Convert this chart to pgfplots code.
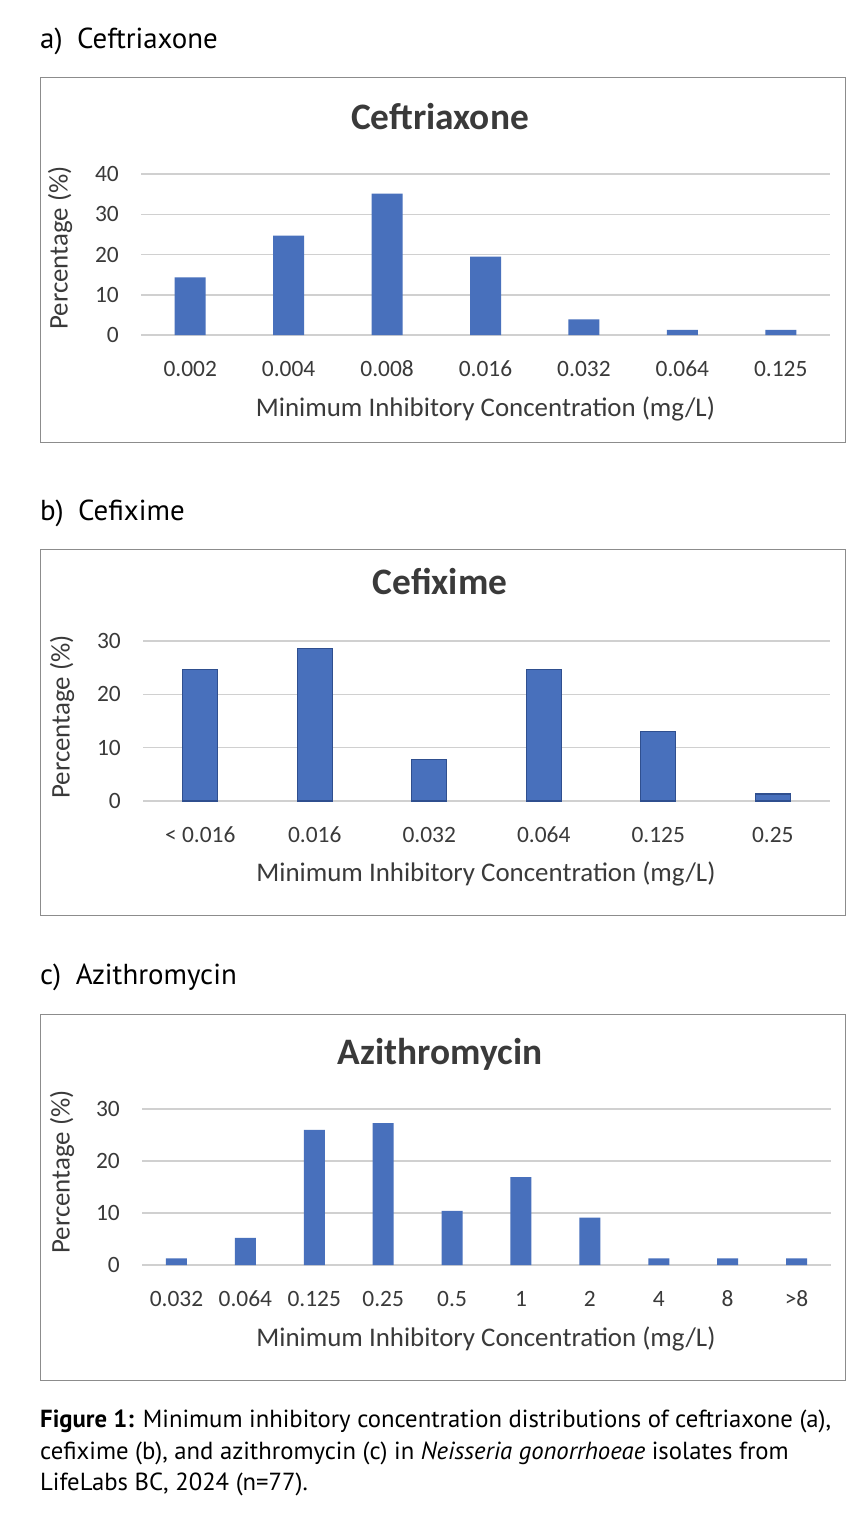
\documentclass[border=0pt]{standalone}
\usepackage{pgfplots}
\pgfplotsset{compat=1.18}
\usepackage{fontspec}
\setmainfont{PT Sans}
\newfontfamily\chartfont{Carlito}

\definecolor{barblue}{HTML}{4870BC}
\definecolor{baredge}{HTML}{2F4F8F}
\definecolor{gridgray}{HTML}{D0D0D0}
\definecolor{boxgray}{HTML}{8C8C8C}
\definecolor{txtgray}{HTML}{3A3A3A}

\pgfplotsset{
  micchart/.style={
    scale only axis,
    anchor=south west,
    width=689bp,
    ymin=0,
    axis line style={draw=none},
    major tick length=0pt,
    ymajorgrids,
    grid style={gridgray, line width=1.5pt},
    ybar,
    bar shift=0pt,
    xtick={0,...,12},
    /pgf/number format/assume math mode=true,
    ticklabel style={font=\chartfont\fontsize{23.5}{28}\selectfont, text=txtgray},
    xticklabel style={anchor=base, yshift=-41bp},
    yticklabel style={anchor=east, inner sep=0pt, xshift=-22bp},
    clip=false,
  },
}

\newcommand{\charttitle}[1]{{\chartfont\bfseries\fontsize{37.5}{42}\selectfont #1}}
\newcommand{\chartlabel}[1]{{\chartfont\fontsize{27}{32}\selectfont #1}}
\newcommand{\panellabel}[1]{{\fontsize{29}{34}\selectfont #1}}

\begin{document}
\begin{tikzpicture}
\path[use as bounding box, fill=white] (0,0) rectangle (862bp,-1522bp);

% ---------------- a) Ceftriaxone ----------------
\node[anchor=base west, inner sep=0pt] at (40bp,-48bp) {\panellabel{a)\enspace Ceftriaxone}};
\draw[boxgray, line width=1pt] (40bp,-77bp) rectangle (845bp,-442bp);
\node[anchor=base, text=txtgray] at (440bp,-129bp) {\charttitle{Ceftriaxone}};
\begin{axis}[micchart,
  at={(141bp,-335bp)}, height=161bp,
  xmin=-0.5, xmax=6.5, ymax=40, ytick={0,10,20,30,40},
  bar width=31bp,
  xticklabels={0.002,0.004,0.008,0.016,0.032,0.064,0.125}]
\addplot[fill=barblue, draw=none] coordinates {
  (0,14.3) (1,24.7) (2,35.1) (3,19.5) (4,3.9) (5,1.3) (6,1.3)};
\end{axis}
\node[anchor=base, text=txtgray] at (485.5bp,-416bp) {\chartlabel{Minimum Inhibitory Concentration (mg/L)}};
\node[rotate=90, text=txtgray] at (60bp,-248bp) {\chartlabel{Percentage (\%)}};

% ---------------- b) Cefixime ----------------
\node[anchor=base west, inner sep=0pt] at (40bp,-520bp) {\panellabel{b)\enspace Cefixime}};
\draw[boxgray, line width=1pt] (40bp,-549bp) rectangle (845bp,-915bp);
\node[anchor=base, text=txtgray] at (440bp,-594bp) {\charttitle{Cefixime}};
\begin{axis}[micchart,
  at={(143bp,-801bp)}, width=687bp, height=160bp,
  xmin=-0.5, xmax=5.5, ymax=30, ytick={0,10,20,30},
  bar width=35bp,
  xticklabels={< 0.016,0.016,0.032,0.064,0.125,0.25}]
\addplot[fill=barblue, draw=baredge, line width=1.2pt] coordinates {
  (0,24.7) (1,28.6) (2,7.8) (3,24.7) (4,13.0) (5,1.3)};
\end{axis}
\node[anchor=base, text=txtgray] at (486bp,-881bp) {\chartlabel{Minimum Inhibitory Concentration (mg/L)}};
\node[rotate=90, text=txtgray] at (62bp,-717bp) {\chartlabel{Percentage (\%)}};

% ---------------- c) Azithromycin ----------------
\node[anchor=base west, inner sep=0pt] at (40bp,-984bp) {\panellabel{c)\enspace Azithromycin}};
\draw[boxgray, line width=1pt] (40bp,-1014bp) rectangle (845bp,-1380bp);
\node[anchor=base, text=txtgray] at (440bp,-1064bp) {\charttitle{Azithromycin}};
\begin{axis}[micchart,
  at={(142bp,-1265bp)}, width=689bp, height=156bp,
  xmin=-0.5, xmax=9.5, ymax=30, ytick={0,10,20,30},
  bar width=21bp,
  xticklabels={0.032,0.064,0.125,0.25,0.5,1,2,4,8,>8}]
\addplot[fill=barblue, draw=none] coordinates {
  (0,1.3) (1,5.2) (2,26.0) (3,27.3) (4,10.4) (5,16.9) (6,9.1) (7,1.3) (8,1.3) (9,1.3)};
\end{axis}
\node[anchor=base, text=txtgray] at (486bp,-1346bp) {\chartlabel{Minimum Inhibitory Concentration (mg/L)}};
\node[rotate=90, text=txtgray] at (62bp,-1172bp) {\chartlabel{Percentage (\%)}};

% ---------------- caption ----------------
\begin{scope}[every node/.style={anchor=base west, inner sep=0pt, font=\fontsize{24.8}{31}\selectfont}]
\node at (40bp,-1427bp) {\textbf{Figure 1:} Minimum inhibitory concentration distributions of ceftriaxone (a),};
\node at (40bp,-1459bp) {cefixime (b), and azithromycin (c) in \textit{Neisseria gonorrhoeae} isolates from};
\node at (40bp,-1490bp) {LifeLabs BC, 2024 (n=77).};
\end{scope}
\end{tikzpicture}
\end{document}
